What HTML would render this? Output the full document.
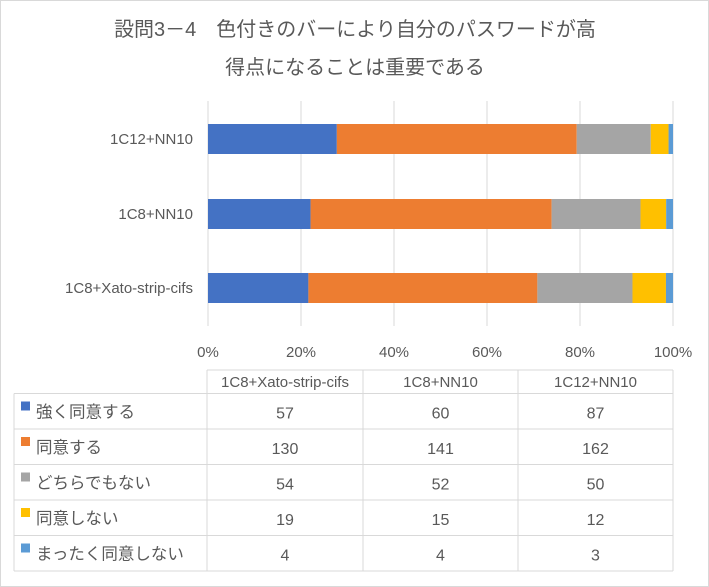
<!DOCTYPE html>
<html><head><meta charset="utf-8"><style>
body{margin:0;background:#fff}
svg{display:block;font-family:"Liberation Sans","Noto Sans CJK JP",sans-serif}
</style></head><body>
<svg id="c" width="709" height="587">
<rect x="0.5" y="0.5" width="708" height="586" fill="#fff" stroke="#d9d9d9"/>
<text x="355" y="36" text-anchor="middle" font-size="20" fill="#595959">設問3－4　色付きのバーにより自分のパスワードが高</text>
<text x="355" y="74" text-anchor="middle" font-size="20" fill="#595959">得点になることは重要である</text>
</svg>
<script>
const categories=["1C8+Xato-strip-cifs","1C8+NN10","1C12+NN10"];
const seriesNames=["強く同意する","同意する","どちらでもない","同意しない","まったく同意しない"];
const s1=[57,60,87];
const s2=[130,141,162];
const s3=[54,52,50];
const s4=[19,15,12];
const s5=[4,4,3];
const series=[s1,s2,s3,s4,s5];
const colors=["#4472C4","#ED7D31","#A5A5A5","#FFC000","#5B9BD5"];
const ticks=[0,20,40,60,80,100];
const svg=document.getElementById('c');const NS="http://www.w3.org/2000/svg";
function mk(t,a,p){const e=document.createElementNS(NS,t);for(const k in a)e.setAttribute(k,a[k]);(p||svg).appendChild(e);return e;}
const x0=208,x1=673;
const xs=v=>x0+(x1-x0)*v/100;
const barCenters=[288,214,139];
const ys=i=>barCenters[i];
const bh=30;
ticks.forEach(t=>{
 const l=mk('line',{x1:xs(t),x2:xs(t),y1:101,y2:326,stroke:'#d9d9d9'});
 
 
 const tx=mk('text',{x:xs(t),y:357,'text-anchor':'middle','font-size':15,fill:'#595959'});tx.textContent=t+'%';
 
 
});
categories.forEach((c,i)=>{
 const tot=series.reduce((a,s)=>a+s[i],0);let acc=0;
 series.forEach((s,j)=>{
  const r=mk('rect',{x:xs(acc/tot*100),y:ys(i)-bh/2,width:xs(s[i]/tot*100)-x0,height:bh,fill:colors[j]});
  
  
  acc+=s[i];
 });
 const t=mk('text',{x:193,y:ys(i)+5,'text-anchor':'end','font-size':15,fill:'#595959'});t.textContent=c;
 
 
});
const cols=[14,207,363,518,673];const rowsY=[370,393.5,429,464.5,500,535.5,571];
const g='#d9d9d9';
for(let r=0;r<rowsY.length;r++){const x=r==0?207:14;mk('line',{x1:x,x2:673,y1:rowsY[r],y2:rowsY[r],stroke:g});}
cols.forEach((x,k)=>{mk('line',{x1:x,x2:x,y1:k==0?393.5:370,y2:571,stroke:g});});
const order=[0,1,2];
order.forEach((ci,k)=>{const t=mk('text',{x:(cols[k+1]+cols[k+2])/2,y:387,'text-anchor':'middle','font-size':15,fill:'#595959'});t.textContent=categories[ci];
 
 });
series.forEach((s,j)=>{
 const top=rowsY[j+1];const cy=(rowsY[j+1]+rowsY[j+2])/2;
 const k=mk('rect',{x:21,y:top+8,width:9,height:9,fill:colors[j]});
 
 
 const n=mk('text',{x:36,y:cy+6,'font-size':16.5,fill:'#595959'});n.textContent=seriesNames[j];
 
 
 order.forEach((ci,k2)=>{const t=mk('text',{x:(cols[k2+1]+cols[k2+2])/2,y:cy+7,'text-anchor':'middle','font-size':16,fill:'#595959'});t.textContent=s[ci];
  
  });
});
</script>
</body></html>
